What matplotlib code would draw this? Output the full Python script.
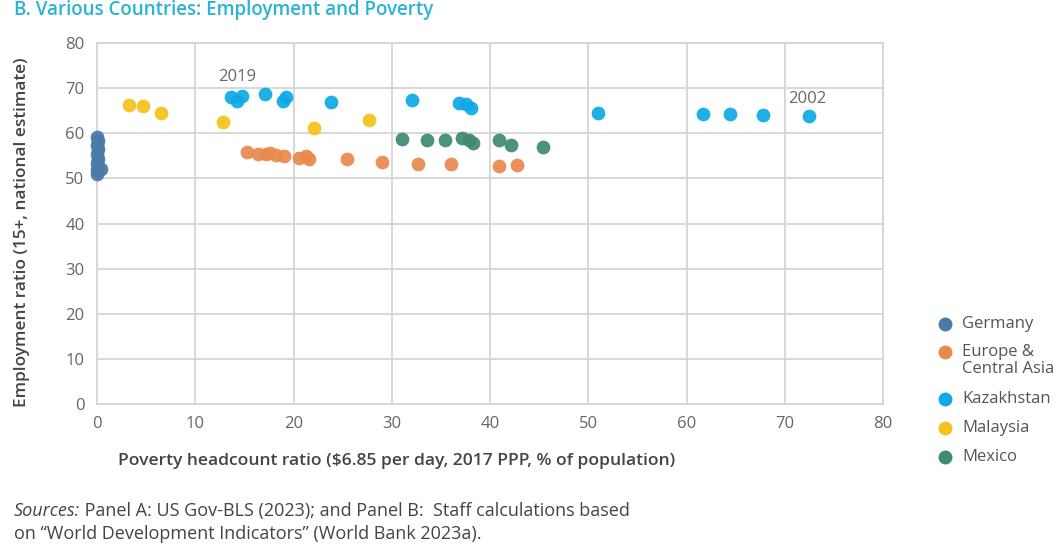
import matplotlib.pyplot as plt

# Poverty headcount (% pop) vs employment ratio (15+)
germany_x = [0.0, 0.1, 0.0, 0.1, 0.0, 0.1, 0.0, 0.1, 0.0, 0.4, 0.0]
germany_y = [59.2, 58.3, 57.3, 56.4, 55.4, 54.4, 53.5, 52.6, 51.8, 52.0, 51.0]

eca_x = [15.3, 16.4, 17.2, 17.6, 18.2, 19.0, 20.6, 21.3, 21.6, 25.4, 29.0, 32.7, 36.0, 40.9, 42.7]
eca_y = [55.9, 55.4, 55.3, 55.7, 55.2, 55.0, 54.6, 55.0, 54.4, 54.3, 53.7, 53.2, 53.2, 52.7, 53.0]

kaz_x = [13.6, 14.2, 14.8, 17.1, 18.9, 19.2, 23.8, 32.1, 36.8, 37.6, 38.1, 51.0, 61.7, 64.4, 67.8, 72.5]
kaz_y = [68.1, 67.2, 68.3, 68.6, 67.2, 68.0, 67.0, 67.4, 66.8, 66.4, 65.6, 64.5, 64.3, 64.3, 64.1, 63.8]

mys_x = [3.3, 4.7, 6.5, 12.8, 22.1, 27.7]
mys_y = [66.3, 66.1, 64.5, 62.6, 61.2, 63.0]

mex_x = [31.0, 33.6, 35.4, 37.1, 37.9, 38.3, 40.9, 42.1, 45.4]
mex_y = [58.8, 58.4, 58.6, 58.9, 58.6, 57.8, 58.4, 57.4, 56.9]

names = ['Germany', 'Europe &\nCentral Asia', 'Kazakhstan', 'Malaysia', 'Mexico']
colors = ['#4b79a8', '#e98a4d', '#0fa9e6', '#f4c21b', '#3e8a72']
xs_all = [germany_x, eca_x, kaz_x, mys_x, mex_x]
ys_all = [germany_y, eca_y, kaz_y, mys_y, mex_y]

plt.rcParams['font.family'] = ['Open Sans', 'DejaVu Sans']
W, H = 1061, 549

fig = plt.figure(figsize=(W / 100, H / 100), dpi=100)
ax = fig.add_axes([97 / W, 1 - 404 / H, (883 - 97) / W, (404 - 43) / H])

for name, xs, ys, c in zip(names, xs_all, ys_all, colors):
    ax.scatter(xs, ys, s=88, color=c, edgecolors=c, linewidths=0.5, alpha=0.93,
               zorder=3, clip_on=False)

ax.set_xlim(0, 80)
ax.set_ylim(0, 80)
ax.set_xticks(range(0, 81, 10))
ax.set_yticks(range(0, 81, 10))
ax.grid(True, color='#d6d6d6', linewidth=1.3)
ax.set_axisbelow(True)
for sp in ax.spines.values():
    sp.set_color('#d6d6d6')
    sp.set_linewidth(1.3)
ax.tick_params(length=0, labelsize=12, colors='#666666', pad=9)

ax.annotate('2019', (13.6, 68.1), xytext=(12.3, 71.5), fontsize=12, color='#666666')
ax.annotate('2002', (72.5, 63.8), xytext=(70.3, 66.7), fontsize=12, color='#666666')

fig.text(118 / W, 1 - 461 / H,
         'Poverty headcount ratio ($6.85 per day, 2017 PPP, % of population)',
         fontsize=12.6, color='#444444', fontweight='semibold', va='center', ha='left')
fig.text(22 / W, 1 - 232 / H, 'Employment ratio (15+, national estimate)',
         fontsize=12.4, color='#444444', fontweight='semibold', va='center',
         ha='center', rotation=90)

# legend drawn by hand so the marker sits on the first line of a wrapped label
leg_y = [324, 352, 399, 428, 457]
for name, c, yy in zip(names, colors, leg_y):
    fig.add_artist(plt.Line2D([945 / W], [1 - yy / H], marker='o', markersize=9,
                              color=c, linestyle='none', transform=fig.transFigure))
    fig.text(962 / W, 1 - (yy - 8) / H, name, fontsize=12, color='#555555',
             va='top', ha='left', linespacing=1.1)

fig.text(14 / W, 1 - 10 / H, 'B. Various Countries: Employment and Poverty',
         fontsize=13.5, color='#2bb3d3', fontweight='semibold', va='center')

renderer = fig.canvas.get_renderer()
src = fig.text(14 / W, 1 - 511 / H, 'Sources:', fontsize=13, color='#444444',
               style='italic', va='center')
bb = src.get_window_extent(renderer)
fig.text(bb.x1 / W, 1 - 511 / H,
         ' Panel A: US Gov-BLS (2023); and Panel B:  Staff calculations based',
         fontsize=13, color='#444444', va='center')
fig.text(14 / W, 1 - 534 / H,
         'on \u201cWorld Development Indicators\u201d (World Bank 2023a).',
         fontsize=13, color='#444444', va='center')

fig.savefig('out.png', dpi=100)
